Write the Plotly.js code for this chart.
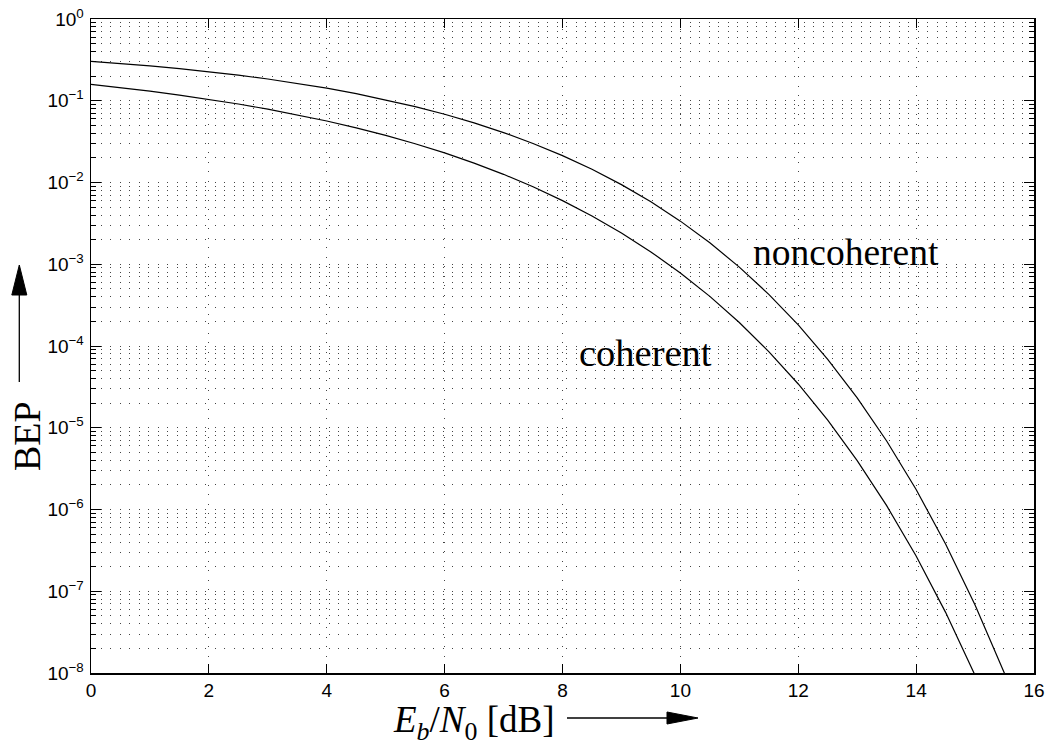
<!DOCTYPE html>
<html>
<head>
<meta charset="utf-8">
<script src="https://cdn.plot.ly/plotly-3.0.1.min.js"></script>
<style>html,body{margin:0;padding:0;background:#fff;}#chart{width:1049px;height:746px;}</style>
</head>
<body>
<div id="chart"></div>
<script>
// Eb/N0 in dB
const ebn0 = [0,0.5,1,1.5,2,2.5,3,3.5,4,4.5,5,5.5,6,6.5,7,7.5,8,8.5,9,9.5,10,10.5,11,11.5,12,12.5,13,13.5,14,14.5,15,15.5,16];
// coherent BEP
const coherent = [0.1587,0.1447,0.1309,0.1173,0.1040,0.09118,0.07890,0.06730,0.05649,0.04660,0.03768,0.02980,0.02301,0.01728,0.01259,0.008861,0.006005,0.003899,0.002413,0.001416,7.827e-4,4.045e-4,1.940e-4,8.55e-5,3.430e-5,1.238e-5,3.969e-6,1.114e-6,2.695e-7,5.516e-8,9.361e-9,1.287e-9,1.40e-10];
// noncoherent BEP
const noncoherent = [0.3033,0.2853,0.2664,0.2467,0.2264,0.2055,0.1844,0.1632,0.1424,0.1222,0.1029,0.08482,0.06831,0.05358,0.04078,0.03005,0.02132,0.01451,0.009423,0.005806,0.003369,0.001831,9.233e-4,4.282e-4,1.811e-4,6.877e-5,2.324e-5,6.88e-6,1.756e-6,3.79e-7,6.795e-8,9.87e-9,1.133e-9];
const yTickVals = [1e-8,1e-7,1e-6,1e-5,1e-4,1e-3,1e-2,1e-1,1];
const yTickText = ['10<sup>\u22128</sup>','10<sup>\u22127</sup>','10<sup>\u22126</sup>','10<sup>\u22125</sup>','10<sup>\u22124</sup>','10<sup>\u22123</sup>','10<sup>\u22122</sup>','10<sup>\u22121</sup>','10<sup>0</sup>'];
const xTickVals = [0,2,4,6,8,10,12,14,16];
const labels = ['noncoherent','coherent'];

const dot = '1px,8.5px';
const gridCol = '#444';
const traces = [
  {x: ebn0, y: coherent, type:'scatter', mode:'lines', line:{color:'#000', width:1.2}, hoverinfo:'skip'},
  {x: ebn0, y: noncoherent, type:'scatter', mode:'lines', line:{color:'#000', width:1.2}, hoverinfo:'skip'}
];

function px(x){return (x-91)/943;}
function py(y){return (673-y)/654;}

const serif = 'Liberation Serif, Times New Roman, serif';
const layout = {
  width:1049, height:746,
  margin:{l:91, r:15, t:19, b:73},
  paper_bgcolor:'#fff', plot_bgcolor:'#fff',
  showlegend:false,
  font:{family:'Liberation Sans, Arial, sans-serif', size:19, color:'#000'},
  xaxis:{
    range:[0,16], tickmode:'array', tickvals:xTickVals, ticktext:xTickVals.map(String),
    ticks:'inside', ticklen:9, tickcolor:'#000', tickwidth:1,
    showline:true, linecolor:'#000', linewidth:1.5, mirror:'allticks',
    showgrid:true, gridcolor:gridCol, gridwidth:1, griddash:dot, zeroline:false,
    tickfont:{size:19}
  },
  yaxis:{
    type:'log', range:[-8,0], tickmode:'array', tickvals:yTickVals, ticktext:yTickText,
    ticks:'inside', ticklen:10, tickcolor:'#000', tickwidth:1,
    showline:true, linecolor:'#000', linewidth:1.5, mirror:'allticks',
    showgrid:true, gridcolor:gridCol, gridwidth:1, griddash:dot, zeroline:false,
    tickfont:{size:19}, ticklabelstandoff:2,
    minor:{dtick:'D1', ticks:'inside', ticklen:5, tickcolor:'#000', showgrid:true, gridcolor:gridCol, gridwidth:1, griddash:dot}
  },
  annotations:[
    {xref:'x', yref:'y', x:11.2, y:-2.86, xanchor:'left', yanchor:'middle', text:labels[0], showarrow:false,
     font:{family:serif, size:37.5, color:'#000'}},
    {xref:'x', yref:'y', x:8.24, y:-4.08, xanchor:'left', yanchor:'middle', text:labels[1], showarrow:false,
     font:{family:serif, size:38.5, color:'#000'}},
    {xref:'paper', yref:'paper', x:px(557), y:py(722), xanchor:'right', yanchor:'middle', showarrow:false,
     text:'<i>E</i><sub><i>b</i></sub>/<i>N</i><sub>0</sub> [dB]',
     font:{family:serif, size:37, color:'#000'}},
    {xref:'paper', yref:'paper', x:px(27), y:py(436), xanchor:'center', yanchor:'middle', showarrow:false,
     text:'BEP', textangle:-90,
     font:{family:serif, size:38, color:'#000'}}
  ],
  shapes:[
    {type:'line', xref:'paper', yref:'paper', x0:px(567), x1:px(675), y0:py(718), y1:py(718), line:{color:'#000', width:1.3}},
    {type:'path', xref:'paper', yref:'paper', path:'M '+px(698)+' '+py(718)+' L '+px(667)+' '+py(712)+' L '+px(667)+' '+py(724)+' Z', fillcolor:'#000', line:{color:'#000', width:1}},
    {type:'line', xref:'paper', yref:'paper', x0:px(19.3), x1:px(19.3), y0:py(382), y1:py(290), line:{color:'#000', width:1.3}},
    {type:'path', xref:'paper', yref:'paper', path:'M '+px(19.3)+' '+py(265)+' L '+px(11.8)+' '+py(295)+' L '+px(26.8)+' '+py(295)+' Z', fillcolor:'#000', line:{color:'#000', width:1}}
  ]
};
Plotly.newPlot('chart', traces, layout, {staticPlot:true, displayModeBar:false});
</script>
</body>
</html>
